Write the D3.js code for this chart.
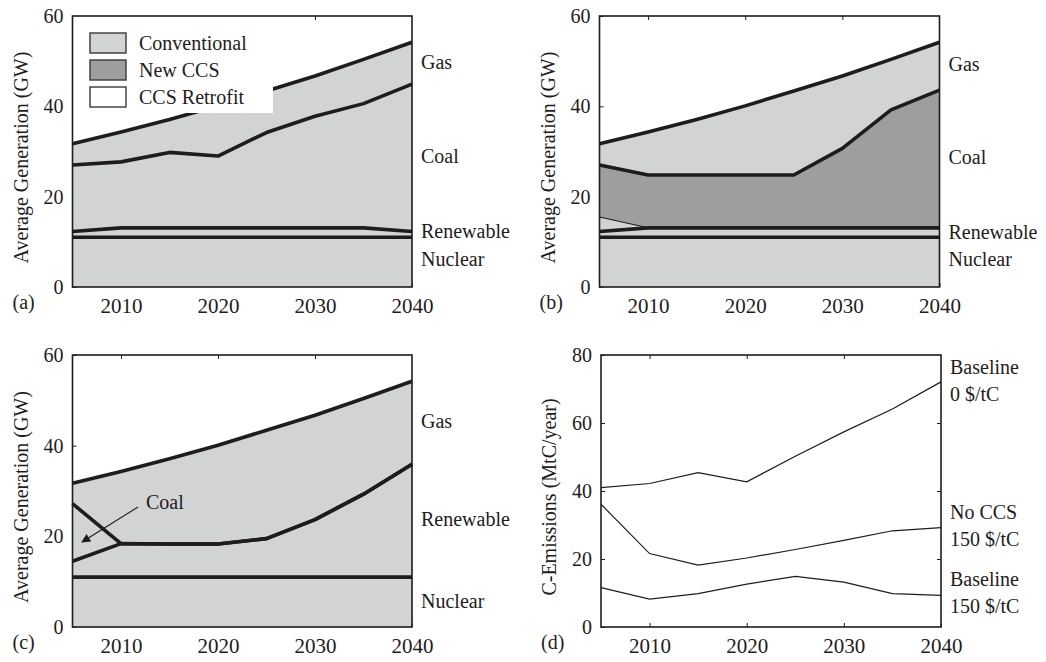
<!DOCTYPE html>
<html><head><meta charset="utf-8">
<script src="https://cdn.jsdelivr.net/npm/d3@7"></script>
</head><body style="margin:0;background:#fff">
<svg id="chart" width="1046" height="662" style="display:block;font-family:'Liberation Serif',serif"></svg>
<script>
// ---------- data ----------
const years = [2005, 2010, 2015, 2020, 2025, 2030, 2035, 2040];
const yearTicks = [2010, 2020, 2030, 2040];
const genTicks = [0, 20, 40, 60];
const emisTicks = [0, 20, 40, 60, 80];

// cumulative tops of each generation layer (GW)
const gasTop      = [31.7, 34.3, 37.1, 40.1, 43.4, 46.7, 50.4, 54.2];
const nuclearTop  = [11, 11, 11, 11, 11, 11, 11, 11];

// (a)
const aRenewTop   = [12.3, 13.1, 13.1, 13.1, 13.1, 13.1, 13.1, 12.3];
const aCoalTop    = [27.0, 27.7, 29.8, 29.0, 34.2, 37.8, 40.6, 44.9];
// (b)
const bRenewTop   = [12.3, 13.1, 13.1, 13.1, 13.1, 13.1, 13.1, 13.1];
const bConvCoalTop= [15.5, 13.1, 13.1, 13.1, 13.1, 13.1, 13.1, 13.1];
const bCoalTop    = [27.0, 24.8, 24.8, 24.8, 24.8, 30.7, 39.2, 43.6];
// (c)
const cRenewTop   = [14.5, 18.4, 18.3, 18.3, 19.5, 23.7, 29.3, 35.9];
const cCoalTop    = [27.2, 18.4, 18.3, 18.3, 19.5, 23.7, 29.3, 35.9];

// (d) C-emissions (MtC/year)
const baseline0   = [41.0, 42.2, 45.4, 42.7, 50.2, 57.4, 64.1, 72.1];
const noCcs150    = [36.1, 21.6, 18.2, 20.3, 22.8, 25.5, 28.3, 29.2];
const baseline150 = [11.6, 8.2, 9.8, 12.6, 14.9, 13.2, 9.8, 9.3];

const legendItems = ["Conventional", "New CCS", "CCS Retrofit"];

// ---------- style ----------
const LIGHT = "#d2d3d5", DARK = "#9d9ea0", INK = "#1f1c1d";
const FONT = "'Liberation Serif', 'Times New Roman', serif";

const svg = d3.select("#chart");
svg.append("rect").attr("width", 1046).attr("height", 662).attr("fill", "#fff");

function txt(sel, size) {
  return sel.attr("font-size", size).attr("fill", INK).style("font-family", FONT);
}

function panel(box, ymax, yt, title, tag) {
  const x = d3.scaleLinear().domain([2005, 2040]).range([box.x0, box.x1]);
  const y = d3.scaleLinear().domain([0, ymax]).range([box.y1, box.y0]);
  const g = svg.append("g");
  const axes = g.append("g");
  const tickLen = 4;
  const styleAxis = sel => {
    sel.select(".domain").remove();
    sel.selectAll(".tick line").attr("stroke", INK).attr("stroke-width", 1);
  };
  axes.append("g").attr("transform", `translate(0,${box.y1})`)
    .call(d3.axisBottom(x).tickValues(yearTicks).tickFormat(d3.format("d"))
      .tickSizeInner(-tickLen).tickSizeOuter(0).tickPadding(11))
    .call(styleAxis)
    .call(s => txt(s.selectAll("text"), 21));
  axes.append("g").attr("transform", `translate(0,${box.y0})`)
    .call(d3.axisTop(x).tickValues([2010, 2020, 2030]).tickFormat("")
      .tickSizeInner(-tickLen).tickSizeOuter(0))
    .call(styleAxis);
  axes.append("g").attr("transform", `translate(${box.x0},0)`)
    .call(d3.axisLeft(y).tickValues(yt).tickFormat(d3.format("d"))
      .tickSizeInner(-tickLen).tickSizeOuter(0).tickPadding(9))
    .call(styleAxis)
    .call(s => txt(s.selectAll("text"), 20));
  axes.append("g").attr("transform", `translate(${box.x1},0)`)
    .call(d3.axisRight(y).tickValues(yt.filter(v => v > 0 && v < ymax)).tickFormat("")
      .tickSizeInner(-tickLen).tickSizeOuter(0))
    .call(styleAxis);
  txt(g.append("text")
    .attr("transform", `translate(${box.x0 - 45},${(box.y0 + box.y1) / 2 + 6}) rotate(-90)`)
    .attr("text-anchor", "middle"), 20).text(title);
  txt(g.append("text").attr("x", box.x0 - 60).attr("y", box.y1 + 22), 20).text(tag);
  return {x, y, g};
}

function layers(p, bounds, fills, thick, thin) {
  const idx = d3.range(years.length);
  bounds.slice(1).forEach((top, i) => {
    const bot = bounds[i];
    p.g.append("path")
      .attr("d", d3.area().x(j => p.x(years[j])).y0(j => p.y(bot[j])).y1(j => p.y(top[j]))(idx))
      .attr("fill", fills[i]).attr("stroke", fills[i]).attr("stroke-width", 0.5);
  });
  const line = arr => d3.line().x(j => p.x(years[j])).y(j => p.y(arr[j]))(idx);
  (thin || []).forEach(arr => {
    const seg = d3.range(2);
    p.g.append("path")
      .attr("d", d3.line().x(j => p.x(years[j])).y(j => p.y(arr[j]))(seg))
      .attr("fill", "none").attr("stroke", INK).attr("stroke-width", 1.1);
  });
  thick.forEach(arr => {
    p.g.append("path").attr("d", line(arr))
      .attr("fill", "none").attr("stroke", INK).attr("stroke-width", 3.6)
      .attr("stroke-linejoin", "round");
  });
}

function frame(box) {
  svg.append("rect").attr("x", box.x0).attr("y", box.y0)
    .attr("width", box.x1 - box.x0).attr("height", box.y1 - box.y0)
    .attr("fill", "none").attr("stroke", INK).attr("stroke-width", 1.6);
}

function rightLabels(box, items) {
  items.forEach(([t, yy]) => txt(svg.append("text")
    .attr("x", box.x1 + 9).attr("y", yy), 20).text(t));
}

const zeros = years.map(() => 0);

// ---------- (a) ----------
const boxA = {x0: 72.5, x1: 412, y0: 16, y1: 287};
const pA = panel(boxA, 60, genTicks, "Average Generation (GW)", "(a)");
layers(pA, [zeros, nuclearTop, aRenewTop, aCoalTop, gasTop],
  [LIGHT, LIGHT, LIGHT, LIGHT], [nuclearTop, aRenewTop, aCoalTop, gasTop]);
const lg = svg.append("g");
lg.append("rect").attr("x", boxA.x0).attr("y", boxA.y0).attr("width", 273 - boxA.x0)
  .attr("height", 113 - boxA.y0).attr("fill", "#fff");
const legFills = [LIGHT, DARK, "#fff"];
legendItems.forEach((t, i) => {
  const yy = 33 + i * 27;
  lg.append("rect").attr("x", 90).attr("y", yy).attr("width", 36).attr("height", 20)
    .attr("fill", legFills[i]).attr("stroke", "#3a3738").attr("stroke-width", 1.4);
  txt(lg.append("text").attr("x", 139).attr("y", yy + 17), 20).text(t);
});
frame(boxA);
rightLabels(boxA, [["Gas", 69], ["Coal", 163], ["Renewable", 238], ["Nuclear", 266]]);

// ---------- (b) ----------
const boxB = {x0: 599.5, x1: 939.5, y0: 16, y1: 287};
const pB = panel(boxB, 60, genTicks, "Average Generation (GW)", "(b)");
layers(pB, [zeros, nuclearTop, bRenewTop, bConvCoalTop, bCoalTop, gasTop],
  [LIGHT, LIGHT, LIGHT, DARK, LIGHT], [nuclearTop, bRenewTop, bCoalTop, gasTop], [bConvCoalTop]);
frame(boxB);
rightLabels(boxB, [["Gas", 71], ["Coal", 164], ["Renewable", 239], ["Nuclear", 266]]);

// ---------- (c) ----------
const boxC = {x0: 72.5, x1: 412, y0: 355, y1: 627};
const pC = panel(boxC, 60, genTicks, "Average Generation (GW)", "(c)");
layers(pC, [zeros, nuclearTop, cRenewTop, cCoalTop, gasTop],
  [LIGHT, LIGHT, LIGHT, LIGHT], [nuclearTop, cRenewTop, cCoalTop, gasTop]);
frame(boxC);
rightLabels(boxC, [["Gas", 428], ["Renewable", 526], ["Nuclear", 608]]);
svg.append("defs").append("marker").attr("id", "ah")
  .attr("viewBox", "0 0 10 10").attr("refX", 9).attr("refY", 5)
  .attr("markerWidth", 12).attr("markerHeight", 9).attr("markerUnits", "userSpaceOnUse")
  .attr("orient", "auto")
  .append("path").attr("d", "M0,0 L10,5 L0,10 z").attr("fill", INK);
svg.append("line").attr("x1", 138).attr("y1", 507).attr("x2", 82).attr("y2", 542)
  .attr("stroke", INK).attr("stroke-width", 1.1).attr("marker-end", "url(#ah)");
txt(svg.append("text").attr("x", 146).attr("y", 509), 20).text("Coal");

// ---------- (d) ----------
const boxD = {x0: 601, x1: 941, y0: 355, y1: 627};
const pD = panel(boxD, 80, emisTicks, "C-Emissions (MtC/year)", "(d)");
const idx = d3.range(years.length);
[baseline0, noCcs150, baseline150].forEach(arr => {
  pD.g.append("path")
    .attr("d", d3.line().x(j => pD.x(years[j])).y(j => pD.y(arr[j]))(idx))
    .attr("fill", "none").attr("stroke", INK).attr("stroke-width", 1.2);
});
frame(boxD);
rightLabels(boxD, [["Baseline", 374], ["0 $/tC", 401], ["No CCS", 519], ["150 $/tC", 546],
  ["Baseline", 586], ["150 $/tC", 613]]);
</script>
</body></html>
